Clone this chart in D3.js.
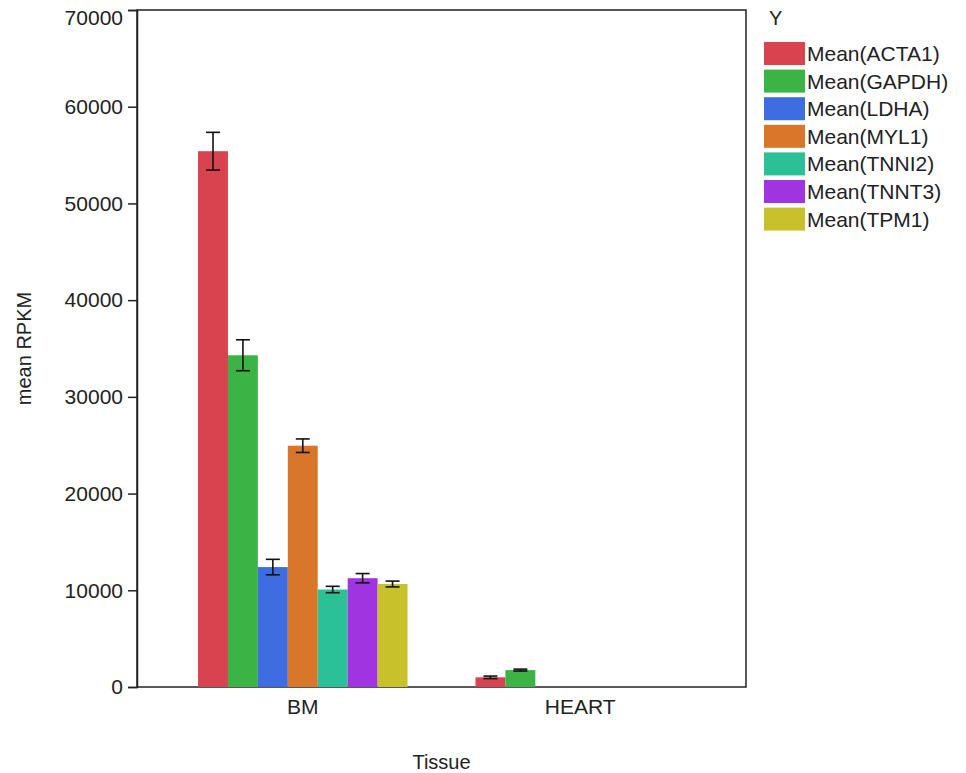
<!DOCTYPE html>
<html>
<head>
<meta charset="utf-8">
<script src="https://cdn.jsdelivr.net/npm/d3@7"></script>
<style>
  body { margin: 0; background: #fff; }
  text { font-family: "Liberation Sans", Arial, sans-serif; fill: #222; }
</style>
</head>
<body>
<div id="chart"></div>
<script>
// tissues on the x axis
const tissues = ['BM', 'HEART'];
// one series per gene
const series = ['Mean(ACTA1)', 'Mean(GAPDH)', 'Mean(LDHA)', 'Mean(MYL1)', 'Mean(TNNI2)', 'Mean(TNNT3)', 'Mean(TPM1)'];
const colors = ['#d9434f', '#3cb445', '#3d6de0', '#d8772a', '#2cc096', '#a034e0', '#c9c12b'];
// mean values, BM then HEART
const meanBM = [55400, 34300, 12400, 24950, 10080, 11250, 10650];
const meanHEART = [1000, 1750, 0, 0, 0, 0, 0];
// half width of the error bars
const errBM = [1950, 1600, 800, 700, 330, 480, 300];
const errHEART = [130, 100, 0, 0, 0, 0, 0];
const yTicks = [0, 10000, 20000, 30000, 40000, 50000, 60000, 70000];

const width = 966, height = 773;
const margin = {top: 10, right: 220, bottom: 86, left: 137};
const innerW = width - margin.left - margin.right;
const innerH = height - margin.top - margin.bottom;

const rows = [];
tissues.forEach((t, i) => {
  const means = i === 0 ? meanBM : meanHEART;
  const errs = i === 0 ? errBM : errHEART;
  series.forEach((s, j) => {
    rows.push({tissue: t, series: s, value: means[j], err: errs[j], color: colors[j]});
  });
});

const svg = d3.select('#chart').append('svg')
  .attr('width', width)
  .attr('height', height);

const g = svg.append('g')
  .attr('transform', `translate(${margin.left},${margin.top})`);

const x0 = d3.scaleBand()
  .domain(tissues)
  .range([0, innerW])
  .paddingInner(0.245)
  .paddingOuter(0.22);
const x1 = d3.scaleBand()
  .domain(series)
  .range([0, x0.bandwidth()]);
const y = d3.scaleLinear()
  .domain([0, 70000])
  .range([innerH, 0]);

// frame
g.append('rect')
  .attr('width', innerW)
  .attr('height', innerH)
  .attr('fill', 'none')
  .attr('stroke', '#222')
  .attr('stroke-width', 1.5);

// bars
g.selectAll('.bar')
  .data(rows.filter(d => d.value > 0))
  .enter().append('rect')
  .attr('class', 'bar')
  .attr('x', d => x0(d.tissue) + x1(d.series))
  .attr('y', d => y(d.value))
  .attr('width', x1.bandwidth())
  .attr('height', d => innerH - y(d.value))
  .attr('fill', d => d.color);

// error bars
const capW = 7;
const cx = d => x0(d.tissue) + x1(d.series) + x1.bandwidth() / 2;
const eb = g.selectAll('.err')
  .data(rows.filter(d => d.err > 0))
  .enter().append('g')
  .attr('class', 'err')
  .attr('stroke', '#111')
  .attr('stroke-width', 1.6);
eb.append('line')
  .attr('x1', cx)
  .attr('x2', cx)
  .attr('y1', d => y(d.value + d.err))
  .attr('y2', d => y(d.value - d.err));
eb.append('line')
  .attr('x1', d => cx(d) - capW)
  .attr('x2', d => cx(d) + capW)
  .attr('y1', d => y(d.value + d.err))
  .attr('y2', d => y(d.value + d.err));
eb.append('line')
  .attr('x1', d => cx(d) - capW)
  .attr('x2', d => cx(d) + capW)
  .attr('y1', d => y(d.value - d.err))
  .attr('y2', d => y(d.value - d.err));

// y axis
const yAxis = g.append('g')
  .call(d3.axisLeft(y).tickValues(yTicks).tickFormat(d3.format('d')).tickSize(9).tickPadding(5));
yAxis.select('.domain').attr('stroke', '#222').attr('stroke-width', 1.5);
yAxis.selectAll('.tick line').attr('stroke', '#222').attr('stroke-width', 1.5);
yAxis.selectAll('.tick text')
  .style('font-size', '21px')
  .attr('fill', '#333')
  .attr('y', d => d === 70000 ? 8 : 0);

// x axis
const xAxis = g.append('g')
  .attr('transform', `translate(0,${innerH})`)
  .call(d3.axisBottom(x0).tickSize(0).tickPadding(12));
xAxis.select('.domain').remove();
xAxis.selectAll('.tick text').style('font-size', '21px').attr('fill', '#333');

// axis titles
svg.append('text')
  .attr('x', margin.left + innerW / 2)
  .attr('y', 769)
  .attr('text-anchor', 'middle')
  .style('font-size', '20px')
  .text('Tissue');
svg.append('text')
  .attr('transform', `translate(31,${margin.top + innerH / 2}) rotate(-90)`)
  .attr('text-anchor', 'middle')
  .style('font-size', '20px')
  .text('mean RPKM');

// legend
const legend = svg.append('g')
  .attr('transform', 'translate(764,0)');
legend.append('text')
  .attr('x', 5)
  .attr('y', 25)
  .style('font-size', '20px')
  .text('Y');
const item = legend.selectAll('.item')
  .data(series)
  .enter().append('g')
  .attr('class', 'item')
  .attr('transform', (d, i) => `translate(0,${42 + i * 27.6})`);
item.append('rect')
  .attr('width', 41)
  .attr('height', 23)
  .attr('fill', (d, i) => colors[i]);
item.append('text')
  .attr('x', 43)
  .attr('y', 19)
  .style('font-size', '21px')
  .text(d => d);
</script>
</body>
</html>
